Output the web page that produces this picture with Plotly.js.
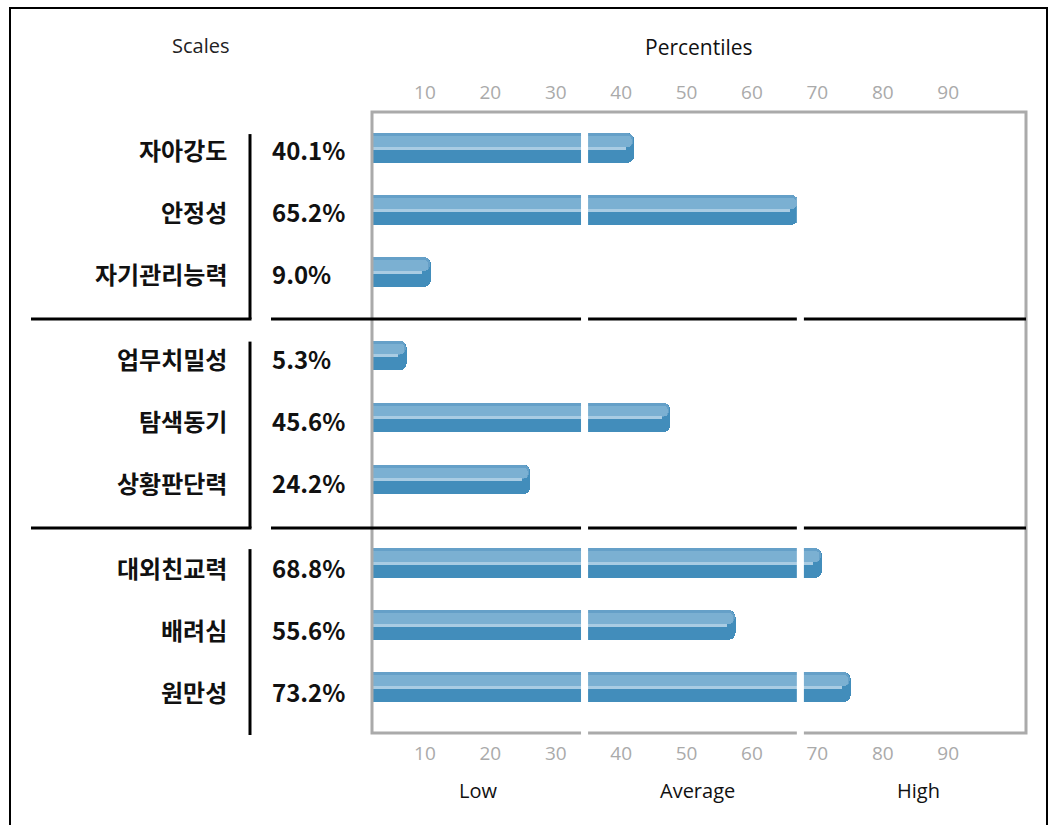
<!DOCTYPE html>
<html>
<head>
<meta charset="utf-8">
<script src="https://cdn.plot.ly/plotly-3.0.1.min.js"></script>
<style>
  html, body { margin: 0; padding: 0; background: #ffffff; }
  #chart { width: 1053px; height: 825px; }
</style>
</head>
<body>
<div id="chart"></div>
<script>
// ---------------- data ----------------
const categories = ['자아강도', '안정성', '자기관리능력', '업무치밀성', '탐색동기', '상황판단력', '대외친교력', '배려심', '원만성'];
const values = [40.1, 65.2, 9.0, 5.3, 45.6, 24.2, 68.8, 55.6, 73.2];
const groups = [0, 0, 0, 1, 1, 1, 2, 2, 2];
const tickLabels = [10, 20, 30, 40, 50, 60, 70, 80, 90];
const bandLabels = ['Low', 'Average', 'High'];
const bandCenters = [16.2, 49.8, 83.5];
const bandCuts = [32.5, 65.5];

// ---------------- layout geometry ----------------
const W = 1053, H = 825;
const M = { l: 372, r: 27, t: 112, b: 92 };
const PW = W - M.l - M.r, PH = H - M.t - M.b;
const BAR_GROUP_GAP = 0.347;
const LABEL_GROUP_GAP = 0.37;
const Y_RANGE = [9.436, -0.58];
const pos = categories.map((c, i) => i + groups[i] * BAR_GROUP_GAP);
const labelPos = categories.map((c, i) => i + groups[i] * LABEL_GROUP_GAP);

const pxX = px => (px - M.l) / PW;                 // pixel x -> paper x
const pxY = py => (M.t + PH - py) / PH;            // pixel y -> paper y
const dataToPxY = d => M.t + (d - Y_RANGE[1]) / (Y_RANGE[0] - Y_RANGE[1]) * PH;

const fontKR = '"Noto Sans CJK KR", "Noto Sans", sans-serif';
const fontLat = '"Open Sans", "Noto Sans", sans-serif';

// ---------------- traces (layered glossy bars) ----------------
const noHover = { hoverinfo: 'skip', showlegend: false, orientation: 'h', type: 'bar' };
const traces = [
  Object.assign({}, noHover, {
    y: pos, x: values, width: 0.48, offset: -0.24,
    marker: { color: '#428dbb', cornerradius: 7, line: { width: 0 } }
  }),
  Object.assign({}, noHover, {
    y: pos, x: values.map(v => v - 0.15), width: 0.226, offset: -0.24,
    marker: { color: '#65a0c8', cornerradius: 6, line: { width: 0 } }
  }),
  Object.assign({}, noHover, {
    y: pos, x: values.map(v => v - 0.4), width: 0.174, offset: -0.19,
    marker: { color: '#7bb0d2', cornerradius: 4, line: { width: 0 } }
  }),
  Object.assign({}, noHover, {
    y: pos, x: values.map(v => v - 1.3), width: 0.045, offset: -0.018,
    marker: { color: '#a9cce3', line: { width: 0 } }
  }),
  { type: 'scatter', x: [], y: [], xaxis: 'x2', yaxis: 'y', showlegend: false, hoverinfo: 'skip' }
];

// ---------------- shapes ----------------
const shapes = [];
// outer frame
shapes.push({ type: 'rect', xref: 'paper', yref: 'paper', x0: pxX(10), x1: pxX(1047), y0: pxY(850), y1: pxY(8),
  line: { color: '#000000', width: 2 }, fillcolor: 'rgba(0,0,0,0)', layer: 'above' });
// plot border
shapes.push({ type: 'rect', xref: 'paper', yref: 'paper', x0: 0, x1: 1, y0: 0, y1: 1,
  line: { color: '#aaaaaa', width: 3 }, fillcolor: 'rgba(0,0,0,0)', layer: 'above' });

// group separators and vertical bars at the left
const groupIdx = [0, 1, 2];
const sepPx = [];
groupIdx.forEach(g => {
  const idx = groups.map((gg, i) => gg === g ? i : -1).filter(i => i >= 0);
  const first = idx[0], last = idx[idx.length - 1];
  const topPx = dataToPxY(pos[first] - 0.24) + 1;
  let botPx;
  if (last + 1 < pos.length) {
    botPx = dataToPxY((labelPos[last] + labelPos[last + 1]) / 2) + 4.5;
    sepPx.push(botPx);
  } else {
    botPx = M.t + PH + 2;
  }
  shapes.push({ type: 'line', xref: 'paper', yref: 'paper', x0: pxX(250), x1: pxX(250), y0: pxY(topPx), y1: pxY(botPx),
    line: { color: '#000000', width: 3 }, layer: 'above' });
});
sepPx.forEach(py => {
  shapes.push({ type: 'line', xref: 'paper', yref: 'paper', x0: pxX(31), x1: pxX(251.5), y0: pxY(py), y1: pxY(py),
    line: { color: '#000000', width: 3 }, layer: 'above' });
  shapes.push({ type: 'line', xref: 'paper', yref: 'paper', x0: pxX(271), x1: 1, y0: pxY(py), y1: pxY(py),
    line: { color: '#000000', width: 3 }, layer: 'above' });
});
// white band cuts
bandCuts.forEach(c => {
  shapes.push({ type: 'rect', xref: 'x', yref: 'paper', x0: c - 0.54, x1: c + 0.54, y0: -0.004, y1: 0.996,
    line: { width: 0 }, fillcolor: '#ffffff', layer: 'above' });
});

// ---------------- annotations ----------------
const annotations = [];
categories.forEach((c, i) => {
  annotations.push({ xref: 'paper', yref: 'y', x: pxX(229), y: labelPos[i], yshift: -2, xanchor: 'right', yanchor: 'middle',
    text: '<b>' + c + '</b>', showarrow: false, font: { family: fontKR, size: 24, color: '#111111' } });
  annotations.push({ xref: 'paper', yref: 'y', x: pxX(270), y: labelPos[i], yshift: -2, xanchor: 'left', yanchor: 'middle',
    text: '<b>' + values[i].toFixed(1) + '%</b>', showarrow: false, font: { family: fontKR, size: 24, color: '#111111' } });
});
annotations.push({ xref: 'paper', yref: 'paper', x: pxX(200), y: pxY(46), xanchor: 'center', yanchor: 'middle',
  text: 'Scales', showarrow: false, font: { family: fontLat, size: 20, color: '#222222' } });
annotations.push({ xref: 'paper', yref: 'paper', x: 0.5, y: pxY(47), xanchor: 'center', yanchor: 'middle',
  text: 'Percentiles', showarrow: false, font: { family: fontLat, size: 21, color: '#111111' } });
bandLabels.forEach((b, i) => {
  annotations.push({ xref: 'x', yref: 'paper', x: bandCenters[i], y: pxY(790), xanchor: 'center', yanchor: 'middle',
    text: b, showarrow: false, font: { family: fontLat, size: 20, color: '#111111' } });
});

// ---------------- axes ----------------
const tickOffset = 1.9;
const xCommon = {
  range: [0, 100], tickvals: tickLabels.map(t => t - tickOffset), ticktext: tickLabels.map(String),
  showgrid: false, zeroline: false, showline: false, ticks: '', fixedrange: true,
  tickfont: { family: fontLat, size: 19, color: '#aaaaaa' }
};

const layout = {
  width: W, height: H, margin: M,
  paper_bgcolor: '#ffffff', plot_bgcolor: '#ffffff',
  barmode: 'overlay', bargap: 0,
  showlegend: false,
  xaxis: Object.assign({}, xCommon, { side: 'bottom', anchor: 'y', ticklabelstandoff: 7 }),
  xaxis2: Object.assign({}, xCommon, { side: 'top', anchor: 'y', overlaying: 'x', ticklabelstandoff: 8 }),
  yaxis: { range: Y_RANGE, showticklabels: false, showgrid: false, zeroline: false, showline: false, ticks: '', fixedrange: true },
  shapes: shapes,
  annotations: annotations
};

Plotly.newPlot('chart', traces, layout, { staticPlot: true, displayModeBar: false });
</script>
</body>
</html>
